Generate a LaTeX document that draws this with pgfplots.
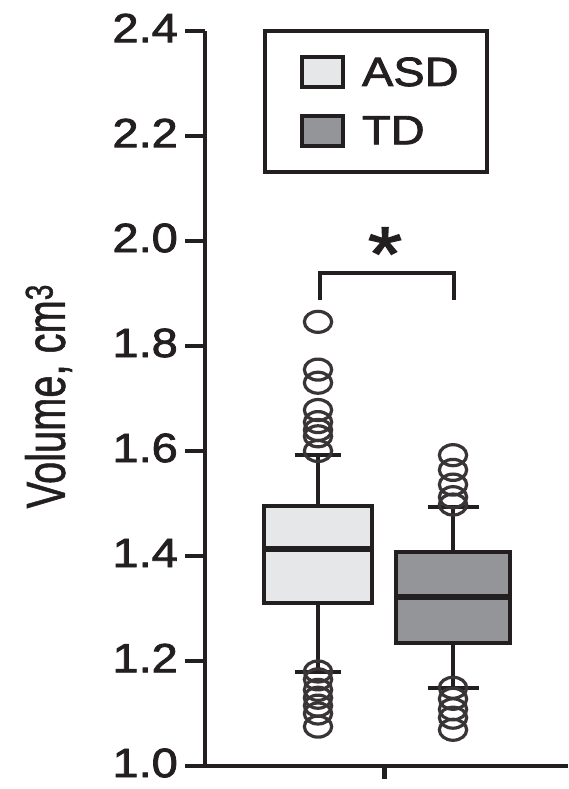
\documentclass[border=0pt]{standalone}
\usepackage{fontspec}
\setmainfont{Liberation Sans}[FakeStretch=1.15, FakeBold=2]
\newfontfamily\labelfont{Liberation Sans}[FakeBold=1.2]
\usepackage{pgfplots}
\pgfplotsset{compat=1.18}
\usepgfplotslibrary{statistics}
\definecolor{ink}{HTML}{231F20}
\definecolor{asdfill}{HTML}{E6E7E8}
\definecolor{tdfill}{HTML}{939598}

\begin{document}
\begin{tikzpicture}
\begin{axis}[
    scale only axis, width=363bp, height=735bp,
    xmin=2.05, xmax=5.68, ymin=1.0, ymax=2.4,
    clip=false,
    axis x line=none, axis y line*=left,
    y axis line style={line width=4.5bp, draw=ink, -},
    xtick=\empty,
    ytick={1.0,1.2,1.4,1.6,1.8,2.0,2.2,2.4},
    tick align=outside, major tick length=20bp,
    ytick style={line width=4bp, draw=ink},
    yticklabel style={font=\fontsize{41}{41}\selectfont, text=ink,
        anchor=east, inner sep=0pt, xshift=-7bp, yshift=3bp,
        /pgf/number format/fixed, /pgf/number format/fixed zerofill,
        /pgf/number format/precision=1, /pgf/number format/assume math mode=true},
    ylabel={\labelfont\scalebox{1}[1.38]{Volume, cm\textsuperscript{3}}},
    ylabel style={font=\fontsize{40}{40}\selectfont, text=ink,
        at={(axis description cs:-0.366,0.503)}, anchor=south, inner sep=0pt},
    legend style={at={(axis description cs:0.1653,1)}, anchor=north west,
        draw=ink, line width=4bp, fill=white, outer sep=0pt,
        inner xsep=28bp, inner ysep=24.5bp, row sep=24.5bp,
        font=\fontsize{41}{41}\selectfont,
        nodes={inner sep=0pt, text=ink}},
    legend cell align=left,
    boxplot/draw direction=y,
]

% ASD
\addplot[forget plot,
    boxplot prepared={draw position=3.18,
        lower whisker=1.179, lower quartile=1.3105, median=1.413,
        upper quartile=1.495, upper whisker=1.592,
        box extend=1.08, whisker extend=0.46},
    draw=ink, line width=3.5bp,
    boxplot/every box/.style={fill=asdfill, draw=ink},
    boxplot/every median/.style={line width=6bp},
    mark=o, mark size=10.5bp,
    mark options={xscale=1.3, line width=3.2bp, draw=ink!90, fill=none}]
coordinates {(0,1.846) (0,1.755) (0,1.73) (0,1.678) (0,1.655) (0,1.64) (0,1.628) (0,1.60)
    (0,1.18) (0,1.165) (0,1.145) (0,1.13) (0,1.115) (0,1.10) (0,1.075)};

% TD
\addplot[forget plot,
    boxplot prepared={draw position=4.53,
        lower whisker=1.149, lower quartile=1.2343, median=1.322,
        upper quartile=1.4076, upper whisker=1.493,
        box extend=1.14, whisker extend=0.51},
    draw=ink, line width=3.5bp,
    boxplot/every box/.style={fill=tdfill, draw=ink},
    boxplot/every median/.style={line width=6bp},
    mark=o, mark size=10.5bp,
    mark options={xscale=1.3, line width=3.2bp, draw=ink!90, fill=none}]
coordinates {(0,1.592) (0,1.564) (0,1.536) (0,1.512) (0,1.498)
    (0,1.149) (0,1.128) (0,1.108) (0,1.092) (0,1.069)};

\addlegendimage{legend image code/.code={
    \draw[fill=asdfill, draw=ink, line width=4bp] (0bp,-15bp) rectangle (41bp,15bp);
    \path (-7bp,0bp) (58bp,0bp);}}
\addlegendentry{ASD}
\addlegendimage{legend image code/.code={
    \draw[fill=tdfill, draw=ink, line width=4bp] (0bp,-15bp) rectangle (41bp,15bp);
    \path (-7bp,0bp) (58bp,0bp);}}
\addlegendentry{TD}

% x axis and its single tick
\draw[ink, line width=4bp] (axis cs:1.85,1.0) -- (axis cs:5.68,1.0);
\draw[ink, line width=5bp] (axis cs:3.84,1.0) -- (axis cs:3.84,0.9752);

% significance bracket
\draw[ink, line width=4bp] (axis cs:3.20,1.888) |- (axis cs:4.54,1.939) -- (axis cs:4.54,1.888);
\node[anchor=base, inner sep=0pt, text=ink, font=\fontsize{76}{76}\selectfont]
    at (axis cs:3.85,1.926) {*};

\coordinate (bl) at (axis cs:0,0.9562);
\coordinate (tr) at (axis cs:5.68,2.459);
\end{axis}
\pgfresetboundingbox
\path[use as bounding box] (bl) rectangle (tr);
\end{tikzpicture}
\end{document}
